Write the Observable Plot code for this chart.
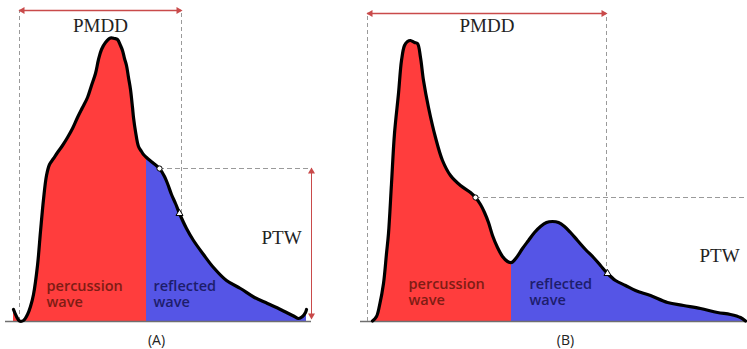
<!DOCTYPE html>
<html>
<head>
<meta charset="utf-8">
<script src="https://cdn.jsdelivr.net/npm/d3@7"></script>
<script src="https://cdn.jsdelivr.net/npm/@observablehq/plot@0.6"></script>
<style>
  html, body { margin: 0; padding: 0; background: #fff; }
  #chart svg { display: block; }
</style>
</head>
<body>
<div id="chart"></div>
<script>
// ---- Data (time units, amplitude units; baseline amplitude = 0) ----
// Panel A pulse waveform
const waveA_t = [13, 16, 19, 23, 27, 30, 33, 37, 40, 43, 46, 49, 53, 57, 62, 67, 72, 77, 82, 87, 91, 95, 98, 101, 105, 110, 114, 117, 120, 122, 124, 126, 128, 130, 132, 133, 135, 138, 141, 143, 146, 152, 159, 164, 167, 171, 175, 179, 186, 193, 203, 213, 226, 240, 254, 267, 280, 288, 294, 298, 302, 305, 306];
const waveA_v = [12, 5, 0.5, 1, 7, 15, 27, 56, 90, 122, 146, 157, 163, 169, 176, 184, 193, 204, 214, 224, 236, 248, 262, 272, 279, 283.5, 283, 282, 276, 271, 263, 256, 244, 232, 214, 204, 190, 175, 170, 167, 164, 159, 153, 145, 138, 127, 118, 108, 93, 81, 67, 54, 41, 33, 24, 18, 12, 8, 5, 3, 5, 9, 12];
const splitA = 146;
const circleA = {t: 159, v: 153};
const triangleA = {t: 179, v: 108};

// Panel B pulse waveform
const waveB_t = [372, 376, 379, 383, 386, 388, 391, 394, 398, 401, 404, 407, 410, 414, 417, 420, 423, 428, 435, 442, 450, 460, 470, 475, 480, 484, 488, 492, 497, 502, 507, 511, 516, 522, 528, 534, 540, 546, 552, 558, 564, 570, 577, 585, 593, 600, 607, 615, 625, 635, 650, 667, 683, 700, 717, 730, 740, 745];
const waveB_v = [0.5, 5, 16, 38, 68, 88, 138, 188, 228, 261, 276, 280, 281, 279, 278, 264, 241, 214, 184, 161, 146, 136, 129, 124, 117, 109, 99, 86, 74, 65, 60, 59, 64, 73, 81, 89, 95, 99, 100, 99, 95, 89, 81, 72, 64, 56, 48, 41, 36, 31, 26, 19, 16, 13, 9, 7, 4, 0.5];
const splitB = 511;
const circleB = {t: 475, v: 124};
const triangleB = {t: 607, v: 48};

// Annotations
const panelLabels = ["(A)", "(B)"];
const panelLabelT = [156, 565];
const waveNames = ["percussion\nwave", "reflected\nwave"];
const pmdd = [{t1: 19, t2: 181, v: 311}, {t1: 367, t2: 606, v: 308}];
const ptw = [{t: 311, v1: 3, v2: 153}];
const baseRanges = [{t1: 5, t2: 311}, {t1: 360, t2: 747}];
const levelLines = [{t1: 159, t2: 311, v: 153}, {t1: 475, t2: 747, v: 124}];

// ---- Build tables ----
const ptsA = waveA_t.map((t, i) => ({t, v: waveA_v[i]}));
const ptsB = waveB_t.map((t, i) => ({t, v: waveB_v[i]}));
const redA = ptsA.filter(d => d.t <= splitA);
const blueA = ptsA.filter(d => d.t >= splitA);
const redB = ptsB.filter(d => d.t <= splitB);
const blueB = ptsB.filter(d => d.t >= splitB);

const RED = "#ff3d3d", BLUE = "#5555e6", ARROW = "#c94a4a", DASH = "#9a9a9a";
const curve = "catmull-rom";

const textPMDD = [
  {t: (pmdd[0].t1 + pmdd[0].t2) / 2, v: 296, s: "PMDD"},
  {t: (pmdd[1].t1 + pmdd[1].t2) / 2, v: 296, s: "PMDD"}
];
const textPTW = [{t: 281, v: 84, s: "PTW"}, {t: 719, v: 66, s: "PTW"}];
const waveText = [
  {t: 46, v: 28, s: waveNames[0], c: "#7e1c14"},
  {t: 153, v: 28, s: waveNames[1], c: "#1d1d6c"},
  {t: 408, v: 30, s: waveNames[0], c: "#7e1c14"},
  {t: 529, v: 30, s: waveNames[1], c: "#1d1d6c"}
];
const panelText = panelLabels.map((s, i) => ({t: panelLabelT[i], v: -19, s}));

const verticalDashes = [
  {t: pmdd[0].t1, v1: 0, v2: pmdd[0].v},
  {t: pmdd[0].t2, v1: triangleA.v, v2: pmdd[0].v},
  {t: pmdd[1].t1, v1: 0, v2: pmdd[1].v},
  {t: pmdd[1].t2, v1: triangleB.v, v2: pmdd[1].v}
];

const heads = [];
pmdd.forEach(p => {
  heads.push({t: p.t1, v: p.v, rot: -90, dx: 3, dy: 0});
  heads.push({t: p.t2, v: p.v, rot: 90, dx: -3, dy: 0});
});
ptw.forEach(p => {
  heads.push({t: p.t, v: p.v2, rot: 0, dx: 0, dy: 3});
  heads.push({t: p.t, v: p.v1, rot: 180, dx: 0, dy: -3});
});

const chart = Plot.plot({
  width: 747,
  height: 349,
  margin: 0,
  x: {domain: [0, 747], axis: null},
  y: {domain: [-28, 321], axis: null},
  marks: [
    // fills
    Plot.areaY(redA, {x: "t", y: "v", fill: RED, curve}),
    Plot.areaY(blueA, {x: "t", y: "v", fill: BLUE, curve}),
    Plot.areaY(redB, {x: "t", y: "v", fill: RED, curve}),
    Plot.areaY(blueB, {x: "t", y: "v", fill: BLUE, curve}),
    // baselines
    Plot.ruleY(baseRanges, {y: 0, x1: "t1", x2: "t2", stroke: "#6f6f6f", strokeWidth: 1.5}),
    // dashed guides
    Plot.ruleX(verticalDashes, {x: "t", y1: "v1", y2: "v2", stroke: DASH, strokeDasharray: "4,3", strokeWidth: 1}),
    Plot.ruleY(levelLines, {y: "v", x1: "t1", x2: "t2", stroke: DASH, strokeDasharray: "5,3", strokeWidth: 1}),
    // waveform outlines
    Plot.line(ptsA, {x: "t", y: "v", stroke: "#000", strokeWidth: 3.2, curve, strokeLinejoin: "round", strokeLinecap: "round"}),
    Plot.line(ptsB, {x: "t", y: "v", stroke: "#000", strokeWidth: 3.2, curve, strokeLinejoin: "round", strokeLinecap: "round"}),
    // PMDD & PTW arrows
    Plot.ruleY(pmdd, {y: "v", x1: "t1", x2: "t2", stroke: ARROW, strokeWidth: 1.3}),
    Plot.ruleX(ptw, {x: "t", y1: "v1", y2: "v2", stroke: ARROW, strokeWidth: 1}),
    Plot.dot(heads, {x: "t", y: "v", symbol: "triangle", r: 2.6, fill: ARROW, stroke: "none", rotate: "rot",
      render: (index, scales, values, dims, ctx, next) => {
        const g = next(index, scales, values, dims, ctx);
        d3.select(g).selectAll("path").each(function(i) {
          const h = heads[i];
          const el = d3.select(this);
          const tr = el.attr("transform");
          el.attr("transform", `translate(${h.dx},${h.dy}) ` + tr);
        });
        return g;
      }}),
    // markers on curves
    Plot.dot([circleA, circleB], {x: "t", y: "v", r: 2.6, fill: "#fff", stroke: "#000", strokeWidth: 1}),
    Plot.dot([triangleA, triangleB], {x: "t", y: "v", symbol: "triangle", r: 2.6, fill: "#fff", stroke: "#000", strokeWidth: 1}),
    // texts
    Plot.text(textPMDD, {x: "t", y: "v", text: "s", fontFamily: "Liberation Serif", fontSize: 19, fill: "#222", textAnchor: "middle"}),
    Plot.text(textPTW, {x: "t", y: "v", text: "s", fontFamily: "Liberation Serif", fontSize: 19, fill: "#222", textAnchor: "middle"}),
    Plot.text(waveText, {x: "t", y: "v", text: "s", fill: "c", fontFamily: "Open Sans", fontWeight: 600, fontSize: 14.5, textAnchor: "start", lineHeight: 1.12}),
    Plot.text(panelText, {x: "t", y: "v", text: "s", fontFamily: "Open Sans", fontWeight: 500, fontSize: 14, fill: "#222", textAnchor: "middle"})
  ]
});
document.getElementById("chart").appendChild(chart);
</script>
</body>
</html>
